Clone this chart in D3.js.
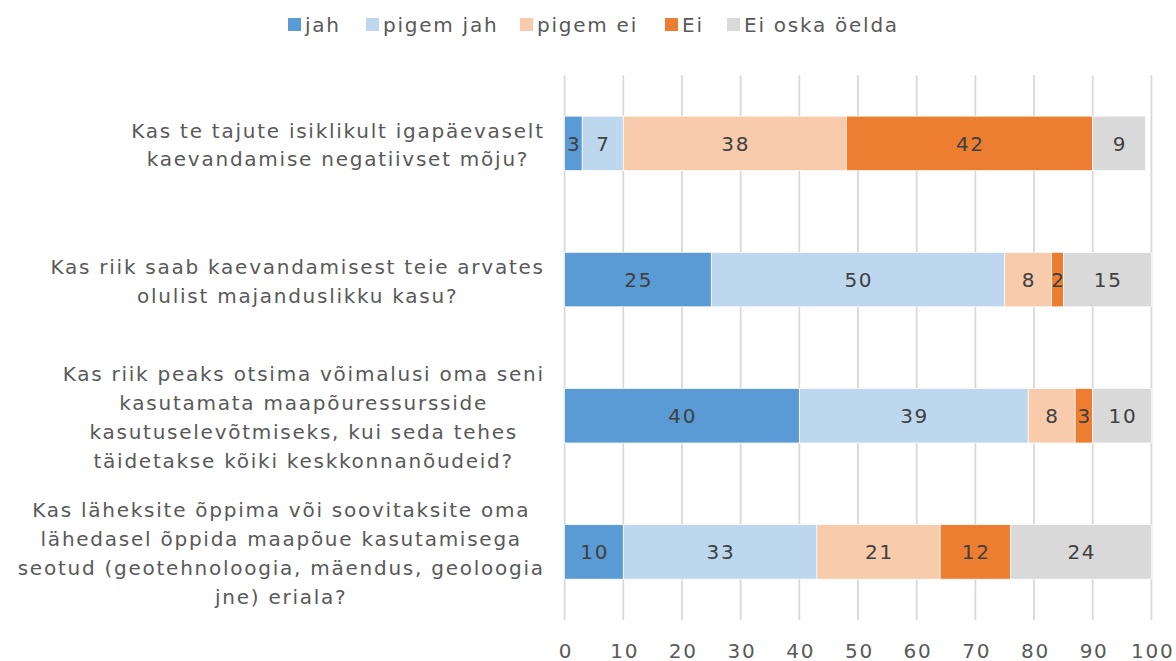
<!DOCTYPE html>
<html><head><meta charset="utf-8">
<script src="https://cdn.jsdelivr.net/npm/d3@7"></script>
<style>body{margin:0;background:#fff}svg{display:block}</style>
</head><body>
<script>
const categories = [
  ["Kas te tajute isiklikult igapäevaselt", "kaevandamise negatiivset mõju?"],
  ["Kas riik saab kaevandamisest teie arvates", "olulist majanduslikku kasu?"],
  ["Kas riik peaks otsima võimalusi oma seni", "kasutamata maapõuressursside", "kasutuselevõtmiseks, kui seda tehes", "täidetakse kõiki keskkonnanõudeid?"],
  ["Kas läheksite õppima või soovitaksite oma", "lähedasel õppida maapõue kasutamisega", "seotud (geotehnoloogia, mäendus, geoloogia", "jne) eriala?"]
];
const seriesNames = ["jah", "pigem jah", "pigem ei", "Ei", "Ei oska öelda"];
const jah = [3, 25, 40, 10];
const pigemJah = [7, 50, 39, 33];
const pigemEi = [38, 8, 8, 21];
const ei = [42, 2, 3, 12];
const eiOska = [9, 15, 10, 24];
const xTicks = [0, 10, 20, 30, 40, 50, 60, 70, 80, 90, 100];
const colors = ["#5B9BD5", "#BDD7EE", "#F8CBAD", "#ED7D31", "#D9D9D9"];

const W = 1176, H = 661;
const font = "'DejaVu Sans', Verdana, sans-serif";
const FS = 20, LS = 1.75;
const svg = d3.select("body").append("svg").attr("width", W).attr("height", H)
  .style("font-family", font);

const x = d3.scaleLinear().domain([0, 100]).range([564.6, 1151.4]);
const y = d3.scaleBand().domain(d3.range(categories.length)).range([75.3, 620]).paddingInner(0.6).paddingOuter(0.3);

// gridlines
svg.append("g").selectAll("line").data(xTicks).join("line")
  .attr("x1", d => x(d)).attr("x2", d => x(d))
  .attr("y1", 75.3).attr("y2", 620)
  .attr("stroke", "#D9D9D9").attr("stroke-width", 1.8);

// stacked data
const rows = categories.map((c, i) => ({i, jah: jah[i], "pigem jah": pigemJah[i], "pigem ei": pigemEi[i], "Ei": ei[i], "Ei oska öelda": eiOska[i]}));
const stack = d3.stack().keys(seriesNames)(rows);

const g = svg.append("g");
stack.forEach((layer, k) => {
  g.append("g").selectAll("rect").data(layer).join("rect")
    .attr("x", d => x(d[0]))
    .attr("width", d => x(d[1]) - x(d[0]))
    .attr("y", d => y(d.data.i))
    .attr("height", y.bandwidth())
    .attr("fill", colors[k])
    .attr("stroke", "#fff").attr("stroke-width", 0.7);
});
stack.forEach((layer, k) => {
  g.append("g").selectAll("text").data(layer).join("text")
    .attr("x", d => (x(d[0]) + x(d[1])) / 2 + LS / 2)
    .attr("y", d => y(d.data.i) + y.bandwidth() / 2)
    .attr("dy", "0.36em")
    .attr("text-anchor", "middle")
    .attr("font-size", FS)
    .attr("letter-spacing", LS)
    .attr("fill", "#404040")
    .text(d => d[1] - d[0]);
});

// x axis labels
const xAxis = d3.axisBottom(x).tickValues(xTicks).tickSize(0).tickPadding(0);
const ax = svg.append("g").attr("transform", "translate(" + (LS / 2) + ",657.5)").call(xAxis);
ax.select(".domain").remove();
ax.selectAll("text").attr("font-size", FS).attr("letter-spacing", LS).attr("fill", "#595959")
  .attr("font-family", font).attr("dy", "0").attr("y", 0);

// category labels
const lineH = 28.8;
categories.forEach((lines, i) => {
  const cy = y(i) + y.bandwidth() / 2 + 1.5;
  const t = svg.append("text").attr("text-anchor", "middle").attr("font-size", FS)
    .attr("letter-spacing", LS).attr("fill", "#595959");
  const spans = lines.map((ln, j) => t.append("tspan").attr("y", cy + (j - (lines.length - 1) / 2) * lineH).attr("dy", "0.36em").text(ln));
  const maxW = d3.max(spans, s => s.node().getComputedTextLength());
  spans.forEach(s => s.attr("x", 543 + LS - maxW / 2));
});

// legend
const legendX = [288, 366, 520, 665, 727];
const lg = svg.append("g");
seriesNames.forEach((n, k) => {
  lg.append("rect").attr("x", legendX[k]).attr("y", 18).attr("width", 13).attr("height", 13).attr("fill", colors[k]);
  lg.append("text").attr("x", legendX[k] + 17).attr("y", 32)
    .attr("font-size", FS).attr("letter-spacing", LS).attr("fill", "#595959").text(n);
});
</script>
</body></html>
